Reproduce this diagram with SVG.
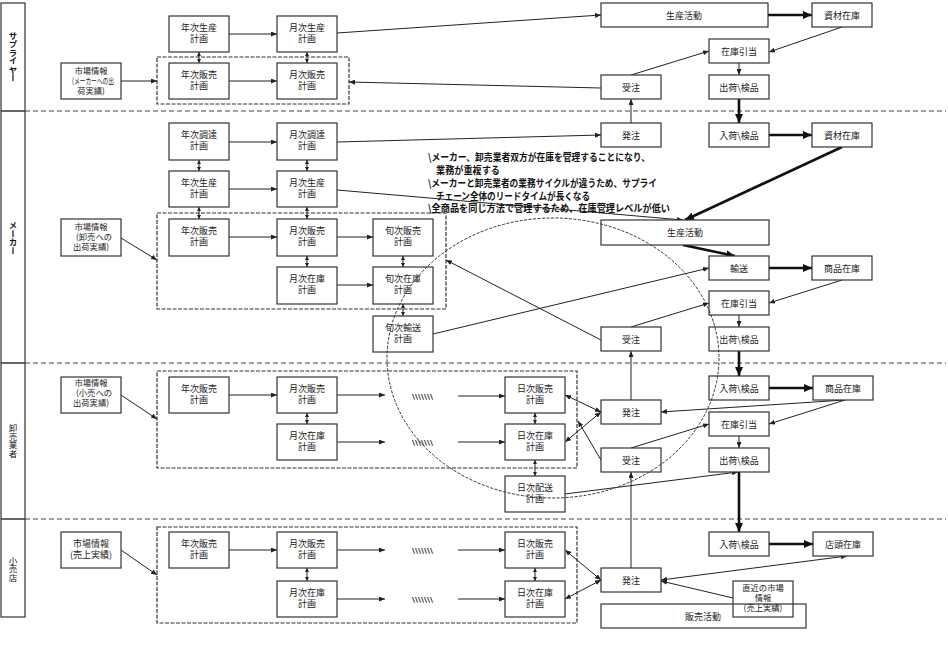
<svg xmlns="http://www.w3.org/2000/svg" width="948" height="649" viewBox="0 0 948 649">
<style>
.n{fill:#fff;stroke:#333;stroke-width:1.2}
.nf{fill:none;stroke:#333;stroke-width:1.2}
.g{fill:none;stroke:#333;stroke-width:1.2;stroke-dasharray:4 1.5}
.t{font-family:"Noto Sans CJK JP","Noto Sans CJK SC",sans-serif;font-size:9px;fill:#222;text-anchor:middle}
.t3{font-size:8.3px}
.ln{font-family:"Noto Sans CJK JP","Noto Sans CJK SC",sans-serif;font-size:8.5px;fill:#111;text-anchor:middle;writing-mode:vertical-rl}
.an{font-family:"Noto Sans CJK JP","Noto Sans CJK SC",sans-serif;font-size:10px;font-weight:bold;fill:#111}
.mk{font-family:"DejaVu Sans",sans-serif;font-size:7px;font-weight:bold;fill:#222}
.b{font-weight:bold}
.c{fill:none;stroke:#222;stroke-width:1}
.cb{fill:none;stroke:#111;stroke-width:2.6}
.d{fill:none;stroke:#444;stroke-width:1.2;stroke-dasharray:5 3}
.e{fill:none;stroke:#333;stroke-width:1;stroke-dasharray:3 1.5}
</style>
<defs>
<marker id="a" markerUnits="userSpaceOnUse" markerWidth="6" markerHeight="5" refX="6" refY="2.5" orient="auto-start-reverse"><path d="M0,0L6,2.5L0,5z" fill="#222"/></marker>
<marker id="s" markerUnits="userSpaceOnUse" markerWidth="4" markerHeight="4" refX="4" refY="2" orient="auto-start-reverse"><path d="M0,0L4,2L0,4z" fill="#222"/></marker>
<marker id="bb" markerUnits="userSpaceOnUse" markerWidth="9" markerHeight="8" refX="9" refY="4" orient="auto"><path d="M0,0L9,4L0,8z" fill="#111"/></marker>
</defs>
<rect width="948" height="649" fill="#fff"/>

<g id="lanes">
<rect x="1" y="3" width="24" height="614" fill="none" stroke="#333" stroke-width="1.2"/>
<line x1="1" y1="111" x2="25" y2="111" stroke="#333" stroke-width="1.5"/>
<line x1="1" y1="363" x2="25" y2="363" stroke="#333" stroke-width="1.5"/>
<line x1="1" y1="519" x2="25" y2="519" stroke="#333" stroke-width="1.5"/>
<line class="d" x1="25" y1="111" x2="946" y2="111"/>
<line class="d" x1="25" y1="363" x2="946" y2="363"/>
<line class="d" x1="25" y1="519" x2="946" y2="519"/>
<text class="ln b" x="13" y="57">サプライヤー</text>
<text class="ln b" x="13" y="238">メーカー</text>
<text class="ln" x="13" y="441">卸売業者</text>
<text class="ln" x="13" y="569">小売店</text>
</g>

<g id="groups">
<rect class="g" x="157" y="57" width="192" height="47"/>
<rect class="g" x="157" y="213" width="289" height="96"/>
<rect class="g" x="157" y="371" width="420" height="97"/>
<rect class="g" x="157" y="527" width="420" height="96"/>
</g>

<g id="connectors">
<line class="c" x1="229" y1="34" x2="277" y2="34" marker-end="url(#a)"/>
<line class="c" x1="229" y1="81" x2="277" y2="81" marker-end="url(#a)"/>
<line class="c" x1="121" y1="81" x2="157" y2="81" marker-end="url(#a)"/>
<line class="c" x1="337" y1="33" x2="601" y2="15" marker-end="url(#a)"/>
<line class="c" x1="842" y1="27" x2="769" y2="52" marker-end="url(#a)"/>
<line class="c" x1="631" y1="75" x2="709" y2="51" marker-end="url(#a)"/>
<line class="c" x1="739" y1="63" x2="739" y2="75" marker-end="url(#a)"/>
<line class="c" x1="601" y1="88" x2="349" y2="82" marker-end="url(#a)"/>
<line class="c" x1="631" y1="123" x2="631" y2="99" marker-end="url(#a)"/>
<line class="c" x1="229" y1="142" x2="277" y2="142" marker-end="url(#a)"/>
<line class="c" x1="229" y1="189" x2="277" y2="189" marker-end="url(#a)"/>
<line class="c" x1="229" y1="237" x2="277" y2="237" marker-end="url(#a)"/>
<line class="c" x1="337" y1="237" x2="373" y2="237" marker-end="url(#a)"/>
<line class="c" x1="337" y1="285" x2="373" y2="285" marker-end="url(#a)"/>
<line class="c" x1="121" y1="238" x2="157" y2="260" marker-end="url(#a)"/>
<line class="c" x1="337" y1="142" x2="601" y2="135" marker-end="url(#a)"/>
<line class="c" x1="337" y1="190" x2="683" y2="220" marker-end="url(#a)"/>
<line class="c" x1="842" y1="280" x2="769" y2="303" marker-end="url(#a)"/>
<line class="c" x1="631" y1="327" x2="709" y2="303" marker-end="url(#a)"/>
<line class="c" x1="739" y1="315" x2="739" y2="327" marker-end="url(#a)"/>
<line class="c" x1="601" y1="340" x2="446" y2="260" marker-end="url(#a)"/>
<line class="c" x1="433" y1="334" x2="709" y2="268" marker-end="url(#a)"/>
<line class="c" x1="631" y1="400" x2="631" y2="351" marker-end="url(#a)"/>
<line class="c" x1="229" y1="395" x2="277" y2="395" marker-end="url(#a)"/>
<line class="c" x1="337" y1="395" x2="385" y2="395" marker-end="url(#a)"/>
<line class="c" x1="458" y1="396" x2="505" y2="396" marker-end="url(#a)"/>
<line class="c" x1="337" y1="442" x2="385" y2="442" marker-end="url(#a)"/>
<line class="c" x1="458" y1="442" x2="505" y2="442" marker-end="url(#a)"/>
<line class="c" x1="121" y1="395" x2="157" y2="419" marker-end="url(#a)"/>
<line class="c" x1="601" y1="460" x2="578" y2="421" marker-end="url(#a)"/>
<line class="c" x1="845" y1="400" x2="661" y2="412" marker-end="url(#a)"/>
<line class="c" x1="845" y1="400" x2="769" y2="424" marker-end="url(#a)"/>
<line class="c" x1="631" y1="448" x2="709" y2="424" marker-end="url(#a)"/>
<line class="c" x1="739" y1="436" x2="739" y2="448" marker-end="url(#a)"/>
<line class="c" x1="565" y1="494" x2="738" y2="472" marker-end="url(#a)"/>
<line class="c" x1="631" y1="568" x2="631" y2="472" marker-end="url(#a)"/>
<line class="c" x1="229" y1="550" x2="277" y2="550" marker-end="url(#a)"/>
<line class="c" x1="337" y1="550" x2="385" y2="550" marker-end="url(#a)"/>
<line class="c" x1="458" y1="550" x2="505" y2="550" marker-end="url(#a)"/>
<line class="c" x1="337" y1="599" x2="385" y2="599" marker-end="url(#a)"/>
<line class="c" x1="458" y1="599" x2="505" y2="599" marker-end="url(#a)"/>
<line class="c" x1="121" y1="550" x2="157" y2="575" marker-end="url(#a)"/>
<line class="c" x1="847" y1="556" x2="661" y2="580" marker-start="url(#a)" marker-end="url(#a)"/>
<line class="c" x1="733" y1="598" x2="661" y2="581" marker-end="url(#a)"/>
<line class="c" x1="565" y1="395" x2="601" y2="412" marker-start="url(#a)" marker-end="url(#a)"/>
<line class="c" x1="565" y1="442" x2="601" y2="412" marker-start="url(#a)" marker-end="url(#a)"/>
<line class="c" x1="565" y1="550" x2="601" y2="580" marker-start="url(#a)" marker-end="url(#a)"/>
<line class="c" x1="565" y1="599" x2="601" y2="580" marker-start="url(#a)" marker-end="url(#a)"/>
<g marker-start="url(#s)" marker-end="url(#s)">
<line class="c" x1="199" y1="52" x2="199" y2="63"/>
<line class="c" x1="199" y1="160" x2="199" y2="171"/>
<line class="c" x1="199" y1="207" x2="199" y2="219"/>
<line class="c" x1="307" y1="52" x2="307" y2="63"/>
<line class="c" x1="307" y1="160" x2="307" y2="171"/>
<line class="c" x1="307" y1="207" x2="307" y2="219"/>
<line class="c" x1="307" y1="256" x2="307" y2="267"/>
<line class="c" x1="307" y1="413" x2="307" y2="424"/>
<line class="c" x1="307" y1="568" x2="307" y2="581"/>
<line class="c" x1="403" y1="256" x2="403" y2="267"/>
<line class="c" x1="403" y1="304" x2="403" y2="316"/>
<line class="c" x1="535" y1="413" x2="535" y2="424"/>
<line class="c" x1="535" y1="460" x2="535" y2="476"/>
<line class="c" x1="535" y1="568" x2="535" y2="581"/>
</g>
<line class="cb" x1="768" y1="15" x2="812" y2="15" marker-end="url(#bb)"/>
<line class="cb" x1="739" y1="99" x2="739" y2="123" marker-end="url(#bb)"/>
<line class="cb" x1="769" y1="135" x2="812" y2="135" marker-end="url(#bb)"/>
<line class="cb" x1="842" y1="147" x2="685" y2="220" marker-end="url(#bb)"/>
<line class="cb" x1="683" y1="245" x2="735" y2="256" marker-end="url(#bb)"/>
<line class="cb" x1="769" y1="268" x2="812" y2="268" marker-end="url(#bb)"/>
<line class="cb" x1="739" y1="351" x2="739" y2="376" marker-end="url(#bb)"/>
<line class="cb" x1="769" y1="388" x2="813" y2="388" marker-end="url(#bb)"/>
<line class="cb" x1="739" y1="472" x2="739" y2="532" marker-end="url(#bb)"/>
<line class="cb" x1="769" y1="544" x2="813" y2="544" marker-end="url(#bb)"/>
<text class="mk" x="412" y="399" textLength="21" lengthAdjust="spacingAndGlyphs">\\\\\\\</text>
<text class="mk" x="412" y="445" textLength="21" lengthAdjust="spacingAndGlyphs">\\\\\\\</text>
<text class="mk" x="412" y="553" textLength="21" lengthAdjust="spacingAndGlyphs">\\\\\\\</text>
<text class="mk" x="412" y="602" textLength="21" lengthAdjust="spacingAndGlyphs">\\\\\\\</text>
</g>

<g id="s_y_prod"><rect class="n" x="169" y="16" width="60" height="36"/><text class="t" x="199" y="30.5">年次生産</text><text class="t" x="199" y="41.5">計画</text></g>
<g id="s_m_prod"><rect class="n" x="277" y="16" width="60" height="36"/><text class="t" x="307" y="30.5">月次生産</text><text class="t" x="307" y="41.5">計画</text></g>
<g id="s_mkt"><rect class="n" x="61" y="63" width="60" height="36"/><text class="t t3" x="91" y="74">市場情報</text><text class="t t3" x="93" y="84" textLength="42" lengthAdjust="spacingAndGlyphs">(メーカーへの出</text><text class="t t3" x="91" y="94">荷実績)</text></g>
<g id="s_y_sales"><rect class="n" x="169" y="63" width="60" height="36"/><text class="t" x="199" y="77.5">年次販売</text><text class="t" x="199" y="88.5">計画</text></g>
<g id="s_m_sales"><rect class="n" x="277" y="63" width="60" height="36"/><text class="t" x="307" y="77.5">月次販売</text><text class="t" x="307" y="88.5">計画</text></g>
<g id="s_prod_act"><rect class="n" x="601" y="3" width="167" height="24"/><text class="t" x="684" y="18.5">生産活動</text></g>
<g id="s_mat_inv"><rect class="n" x="812" y="3" width="60" height="24"/><text class="t" x="842" y="18.5">資材在庫</text></g>
<g id="s_alloc"><rect class="n" x="709" y="39" width="60" height="24"/><text class="t" x="739" y="54.5">在庫引当</text></g>
<g id="s_order_recv"><rect class="n" x="601" y="75" width="60" height="24"/><text class="t" x="631" y="90.5">受注</text></g>
<g id="s_ship"><rect class="n" x="709" y="75" width="60" height="24"/><text class="t" x="739" y="90.5">出荷\検品</text></g>

<g id="m_y_proc"><rect class="n" x="169" y="123" width="60" height="37"/><text class="t" x="199" y="138">年次調達</text><text class="t" x="199" y="149">計画</text></g>
<g id="m_m_proc"><rect class="n" x="277" y="123" width="60" height="37"/><text class="t" x="307" y="138">月次調達</text><text class="t" x="307" y="149">計画</text></g>
<g id="m_y_prod"><rect class="n" x="169" y="171" width="60" height="36"/><text class="t" x="199" y="185.5">年次生産</text><text class="t" x="199" y="196.5">計画</text></g>
<g id="m_m_prod"><rect class="n" x="277" y="171" width="60" height="36"/><text class="t" x="307" y="185.5">月次生産</text><text class="t" x="307" y="196.5">計画</text></g>
<g id="m_y_sales"><rect class="n" x="169" y="219" width="60" height="37"/><text class="t" x="199" y="234">年次販売</text><text class="t" x="199" y="245">計画</text></g>
<g id="m_m_sales"><rect class="n" x="277" y="219" width="60" height="37"/><text class="t" x="307" y="234">月次販売</text><text class="t" x="307" y="245">計画</text></g>
<g id="m_j_sales"><rect class="n" x="373" y="219" width="60" height="37"/><text class="t" x="403" y="234">旬次販売</text><text class="t" x="403" y="245">計画</text></g>
<g id="m_m_inv"><rect class="n" x="277" y="267" width="60" height="37"/><text class="t" x="307" y="282">月次在庫</text><text class="t" x="307" y="293">計画</text></g>
<g id="m_j_inv"><rect class="n" x="373" y="267" width="60" height="37"/><text class="t" x="403" y="282">旬次在庫</text><text class="t" x="403" y="293">計画</text></g>
<g id="m_j_trans"><rect class="n" x="373" y="316" width="60" height="36"/><text class="t" x="403" y="330.5">旬次輸送</text><text class="t" x="403" y="341.5">計画</text></g>
<g id="m_mkt"><rect class="n" x="61" y="219" width="60" height="37"/><text class="t t3" x="91" y="230">市場情報</text><text class="t t3" x="94" y="240">(卸売への</text><text class="t t3" x="91" y="250">出荷実績)</text></g>
<g id="m_order"><rect class="n" x="601" y="123" width="60" height="24"/><text class="t" x="631" y="138.5">発注</text></g>
<g id="m_recv"><rect class="n" x="709" y="123" width="60" height="24"/><text class="t" x="739" y="138.5">入荷\検品</text></g>
<g id="m_mat_inv"><rect class="n" x="812" y="123" width="60" height="24"/><text class="t" x="842" y="138.5">資材在庫</text></g>
<g id="m_prod_act"><rect class="n" x="601" y="220" width="168" height="25"/><text class="t" x="685" y="236">生産活動</text></g>
<g id="m_trans"><rect class="n" x="709" y="256" width="60" height="24"/><text class="t" x="739" y="271.5">輸送</text></g>
<g id="m_goods_inv"><rect class="n" x="812" y="256" width="60" height="24"/><text class="t" x="842" y="271.5">商品在庫</text></g>
<g id="m_alloc"><rect class="n" x="709" y="291" width="60" height="24"/><text class="t" x="739" y="306.5">在庫引当</text></g>
<g id="m_order_recv"><rect class="n" x="601" y="327" width="60" height="24"/><text class="t" x="631" y="342.5">受注</text></g>
<g id="m_ship"><rect class="n" x="709" y="327" width="60" height="24"/><text class="t" x="739" y="342.5">出荷\検品</text></g>

<g id="w_mkt"><rect class="n" x="61" y="377" width="60" height="36"/><text class="t t3" x="91" y="386">市場情報</text><text class="t t3" x="94" y="396">(小売への</text><text class="t t3" x="91" y="406">出荷実績)</text></g>
<g id="w_y_sales"><rect class="n" x="169" y="377" width="60" height="36"/><text class="t" x="199" y="391.5">年次販売</text><text class="t" x="199" y="402.5">計画</text></g>
<g id="w_m_sales"><rect class="n" x="277" y="377" width="60" height="36"/><text class="t" x="307" y="391.5">月次販売</text><text class="t" x="307" y="402.5">計画</text></g>
<g id="w_m_inv"><rect class="n" x="277" y="424" width="60" height="36"/><text class="t" x="307" y="438.5">月次在庫</text><text class="t" x="307" y="449.5">計画</text></g>
<g id="w_d_sales"><rect class="n" x="505" y="377" width="60" height="36"/><text class="t" x="535" y="391.5">日次販売</text><text class="t" x="535" y="402.5">計画</text></g>
<g id="w_d_inv"><rect class="n" x="505" y="424" width="60" height="36"/><text class="t" x="535" y="438.5">日次在庫</text><text class="t" x="535" y="449.5">計画</text></g>
<g id="w_d_deliv"><rect class="n" x="505" y="476" width="60" height="36"/><text class="t" x="535" y="490.5">日次配送</text><text class="t" x="535" y="501.5">計画</text></g>
<g id="w_order"><rect class="n" x="601" y="400" width="60" height="24"/><text class="t" x="631" y="415.5">発注</text></g>
<g id="w_order_recv"><rect class="n" x="601" y="448" width="60" height="24"/><text class="t" x="631" y="463.5">受注</text></g>
<g id="w_recv"><rect class="n" x="709" y="376" width="60" height="24"/><text class="t" x="739" y="391.5">入荷\検品</text></g>
<g id="w_goods_inv"><rect class="n" x="813" y="376" width="60" height="24"/><text class="t" x="843" y="391.5">商品在庫</text></g>
<g id="w_alloc"><rect class="n" x="709" y="412" width="60" height="24"/><text class="t" x="739" y="427.5">在庫引当</text></g>
<g id="w_ship"><rect class="n" x="709" y="448" width="60" height="24"/><text class="t" x="739" y="463.5">出荷\検品</text></g>

<g id="r_mkt"><rect class="n" x="61" y="532" width="60" height="36"/><text class="t" x="91" y="546.5">市場情報</text><text class="t" x="91" y="557.5">(売上実績)</text></g>
<g id="r_y_sales"><rect class="n" x="169" y="532" width="60" height="36"/><text class="t" x="199" y="546.5">年次販売</text><text class="t" x="199" y="557.5">計画</text></g>
<g id="r_m_sales"><rect class="n" x="277" y="532" width="60" height="36"/><text class="t" x="307" y="546.5">月次販売</text><text class="t" x="307" y="557.5">計画</text></g>
<g id="r_m_inv"><rect class="n" x="277" y="581" width="60" height="36"/><text class="t" x="307" y="595.5">月次在庫</text><text class="t" x="307" y="606.5">計画</text></g>
<g id="r_d_sales"><rect class="n" x="505" y="532" width="60" height="36"/><text class="t" x="535" y="546.5">日次販売</text><text class="t" x="535" y="557.5">計画</text></g>
<g id="r_d_inv"><rect class="n" x="505" y="581" width="60" height="36"/><text class="t" x="535" y="595.5">日次在庫</text><text class="t" x="535" y="606.5">計画</text></g>
<g id="r_order"><rect class="n" x="601" y="568" width="60" height="24"/><text class="t" x="631" y="583.5">発注</text></g>
<g id="r_recv"><rect class="n" x="709" y="532" width="60" height="24"/><text class="t" x="739" y="547.5">入荷\検品</text></g>
<g id="r_shelf"><rect class="n" x="813" y="532" width="60" height="24"/><text class="t" x="843" y="547.5">店頭在庫</text></g>
<g id="r_sales_act"><rect class="n" x="601" y="604" width="205" height="24"/><text class="t" x="703" y="620">販売活動</text></g>
<g id="r_recent"><rect class="nf" x="733" y="581" width="60" height="36"/><text class="t t3" x="763" y="591">直近の市場</text><text class="t t3" x="763" y="601">情報</text><text class="t t3" x="763" y="611">(売上実績)</text></g>

<g id="note">
<ellipse class="e" cx="553" cy="358" rx="166" ry="140"/>
<text class="an" x="428" y="161" textLength="222" lengthAdjust="spacingAndGlyphs">\メーカー、卸売業者双方が在庫を管理することになり、</text>
<text class="an" x="436" y="174" textLength="64" lengthAdjust="spacingAndGlyphs">業務が重複する</text>
<text class="an" x="428" y="187" textLength="229" lengthAdjust="spacingAndGlyphs">\メーカーと卸売業者の業務サイクルが違うため、サプライ</text>
<text class="an" x="436" y="200" textLength="154" lengthAdjust="spacingAndGlyphs">チェーン全体のリードタイムが長くなる</text>
<text class="an" x="428" y="212" textLength="242" lengthAdjust="spacingAndGlyphs">\全商品を同じ方法で管理するため、在庫管理レベルが低い</text>
</g>
</svg>
